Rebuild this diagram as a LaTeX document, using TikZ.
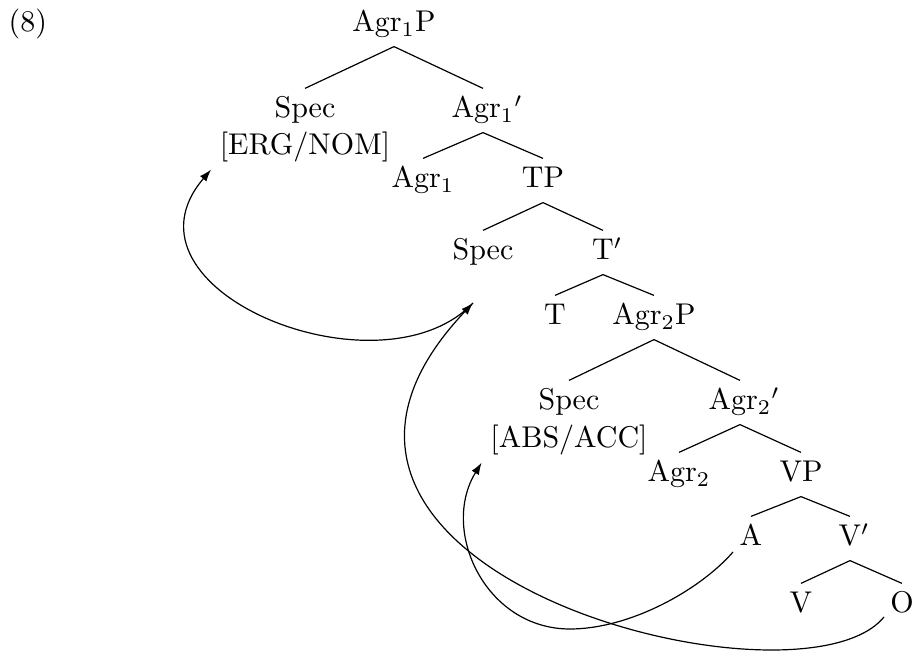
\documentclass[tikz,border=0pt]{standalone}
\usetikzlibrary{calc,arrows.meta}
\begin{document}
\begin{tikzpicture}[x=0.33333pt,y=-0.33333pt,
  lab/.style={anchor=base,text height=6.94pt,text depth=1.94pt,inner sep=2.73pt},
  br/.style={draw,line width=0.4pt},
  mv/.style={draw,line width=0.4pt,-{Latex[length=4pt,width=2.8pt]}}]
\useasboundingbox (0,0) rectangle (915,658);
\node[anchor=base west,inner sep=0pt] (ex) at (8,32) {(8)};
\node[lab] (agr1p) at (394,32) {Agr$_1$P};
\node[lab] (spec1) at (305,118) {Spec};
\node[lab] (erg) at (305,155) {[ERG/NOM]};
\node[lab] (agr1b) at (483,118) {Agr$_1$\rlap{$'$}};
\node[lab] (agr1) at (423,188) {Agr$_1$};
\node[lab] (tp) at (543,188) {TP};
\node[lab] (spec2) at (483,260) {Spec};
\node[lab] (tb) at (603,260) {T\rlap{$'$}};
\node[lab] (t) at (555,325) {T};
\node[lab] (agr2p) at (654,325) {Agr$_2$P};
\node[lab] (spec3) at (569,410) {Spec};
\node[lab] (abs) at (569,448) {[ABS/ACC]};
\node[lab] (agr2b) at (740,410) {Agr$_2$\rlap{$'$}};
\node[lab] (agr2) at (679,482) {Agr$_2$};
\node[lab] (vp) at (801,482) {VP};
\node[lab] (a) at (751,546) {A};
\node[lab] (vb) at (850,546) {V\rlap{$'$}};
\node[lab] (v) at (801,613) {V};
\node[lab] (o) at (902,613) {O};
\coordinate (gap) at (473,303);
\coordinate (aout) at (733,552);
\coordinate (abot) at (570,629);
\coordinate (oout) at (884,617);
\draw[br] (agr1p.south) -- (spec1.north);
\draw[br] (agr1p.south) -- (agr1b.north);
\draw[br] (agr1b.south) -- (agr1.north);
\draw[br] (agr1b.south) -- (tp.north);
\draw[br] (tp.south) -- (spec2.north);
\draw[br] (tp.south) -- (tb.north);
\draw[br] (tb.south) -- (t.north);
\draw[br] (tb.south) -- (agr2p.north);
\draw[br] (agr2p.south) -- (spec3.north);
\draw[br] (agr2p.south) -- (agr2b.north);
\draw[br] (agr2b.south) -- (agr2.north);
\draw[br] (agr2b.south) -- (vp.north);
\draw[br] (vp.south) -- (a.north);
\draw[br] (vp.south) -- (vb.north);
\draw[br] (vb.south) -- (v.north);
\draw[br] (vb.south) -- (o.north);
\draw[mv] (gap) .. controls (380,400) and (108,290) .. (erg.south west);
\draw[mv] (oout) .. controls (800,720) and (218,572) .. (gap);
\draw[mv] (aout) .. controls (700,590) and (630,629) .. (abot)
  .. controls (485,629) and (440,530) .. (abs.south west);
\end{tikzpicture}
\end{document}
